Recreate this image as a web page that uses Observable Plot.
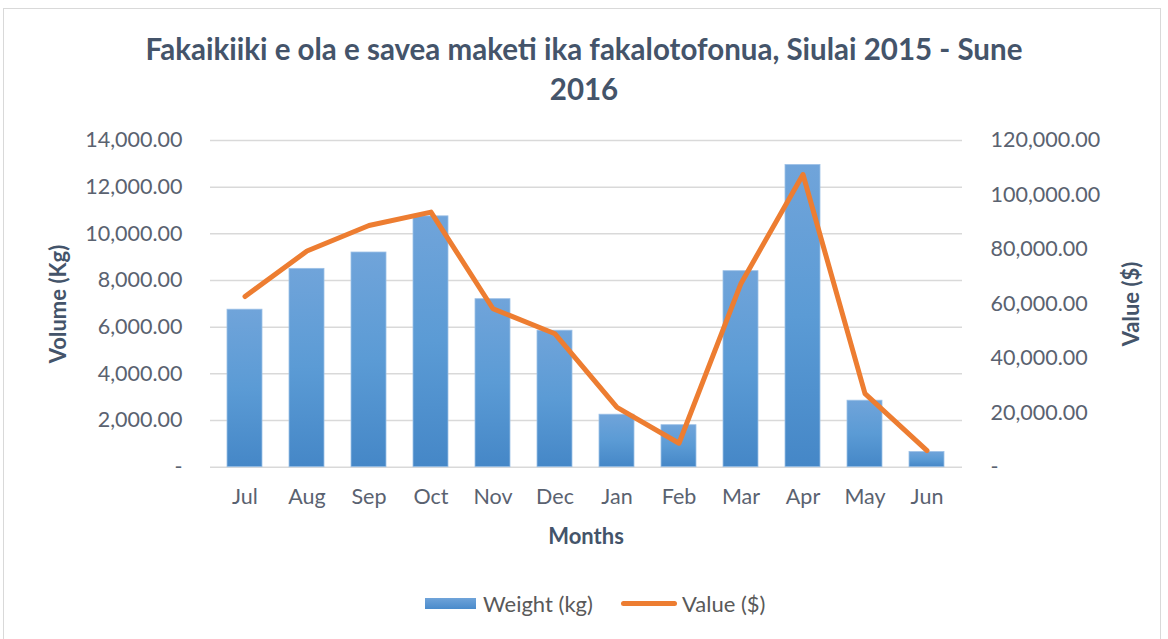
<!DOCTYPE html>
<html>
<head>
<meta charset="utf-8">
<script src="https://cdn.jsdelivr.net/npm/d3@7"></script>
<script src="https://cdn.jsdelivr.net/npm/@observablehq/plot@0.6"></script>
<style>
  html, body { margin: 0; padding: 0; background: #fff; width: 1168px; height: 639px; overflow: hidden; }
  #wrap { position: relative; width: 1168px; height: 639px; font-family: Lato, "Open Sans", sans-serif; }
  #frame { position: absolute; left: 3px; top: 8px; width: 1158px; height: 660px; border: 1.5px solid #d9d9d9; box-sizing: border-box; }
  #title { position: absolute; left: 0; width: 1168px; top: 29px; text-align: center; font-size: 29.5px; font-weight: 700; color: #44546a; line-height: 40px; }
  #chart { position: absolute; left: 0; top: 0; }
  .axt { position: absolute; font-size: 22px; font-weight: 700; color: #44546a; white-space: nowrap; }
  #legend { position: absolute; top: 590px; left: 0; width: 1168px; height: 30px; font-size: 22px; color: #595959; }
  #legend .sw { position: absolute; }
  #legend .lt { position: absolute; top: 0px; white-space: nowrap; }
</style>
</head>
<body>
<div id="wrap">
  <div id="frame"></div>
  <div id="chart"></div>
  <div id="title">Fakaikiiki e ola e savea maketi ika fakalotofonua, Siulai 2015 - Sune<br>2016</div>
  <div class="axt" id="ylab" style="left:57px; top:304px; transform: translate(-50%,-50%) rotate(-90deg);">Volume (Kg)</div>
  <div class="axt" id="y2lab" style="left:1130px; top:304px; transform: translate(-50%,-50%) rotate(-90deg);">Value ($)</div>
  <div class="axt" id="xlab" style="left:586px; top:535px; transform: translate(-50%,-50%);">Months</div>
  <div id="legend">
    <div class="sw" style="left:425px; top:8px; width:51px; height:11px; background: linear-gradient(#6fa3d9,#4a8bcb);"></div>
    <div class="lt" style="left:483px;">Weight (kg)</div>
    <div class="sw" style="left:621px; top:11px; width:56px; height:5px; border-radius:3px; background:#ed7d31;"></div>
    <div class="lt" style="left:682px;">Value ($)</div>
  </div>
</div>
<script>
const months = ["Jul","Aug","Sep","Oct","Nov","Dec","Jan","Feb","Mar","Apr","May","Jun"];
const weightKg = [6750, 8500, 9200, 10750, 7200, 5850, 2250, 1800, 8400, 12950, 2850, 650];
const valueUsd = [62700, 79400, 88800, 93700, 58200, 49000, 22000, 8800, 67500, 107500, 27000, 6100];
const leftTicks = [0, 2000, 4000, 6000, 8000, 10000, 12000, 14000];
const rightTicks = [0, 20000, 40000, 60000, 80000, 100000, 120000];

const leftMax = 14000, rightMax = 120000;
const k = leftMax / rightMax;
const data = months.map((m, i) => ({month: m, weight: weightKg[i], value: valueUsd[i]}));
const fmt = d => d === 0 ? "-" : d3.format(",.2f")(d);

const chart = Plot.plot({
  width: 1168,
  height: 560,
  marginTop: 140,
  marginBottom: 93.3,
  marginLeft: 210,
  marginRight: 206,
  x: {domain: months, paddingInner: 0.43, paddingOuter: 0.215, label: null},
  y: {domain: [0, leftMax], label: null},
  style: {fontFamily: "Lato, 'Open Sans', sans-serif", fontSize: "21.5px", color: "#5a6270", background: "transparent", overflow: "visible"},
  marks: [
    Plot.ruleY(leftTicks, {stroke: "#d9d9d9", strokeWidth: 1.5}),
    Plot.barY(data, {x: "month", y: "weight", fill: "url(#barGrad)", stroke: "#9cc0e6", strokeWidth: 0.8}),
    Plot.line(data, {x: "month", y: d => d.value * k, stroke: "#ed7d31", strokeWidth: 5, strokeLinecap: "round", strokeLinejoin: "round"}),
    Plot.axisY({ticks: leftTicks, tickFormat: fmt, tickSize: 0, tickPadding: 28, anchor: "left", label: null}),
    Plot.axisY({ticks: rightTicks.map(v => v * k), tickFormat: d => fmt(Math.round(d / k)), anchor: "right", tickSize: 0, tickPadding: 28, label: null}),
    Plot.axisX({tickSize: 0, tickPadding: 22, label: null})
  ]
});

const ns = "http://www.w3.org/2000/svg";
const defs = document.createElementNS(ns, "defs");
defs.innerHTML = '<linearGradient id="barGrad" x1="0" y1="0" x2="0" y2="1">' +
  '<stop offset="0" stop-color="#70a4da"/><stop offset="0.5" stop-color="#5b9bd5"/><stop offset="1" stop-color="#4587c7"/></linearGradient>';
chart.insertBefore(defs, chart.firstChild);
document.getElementById("chart").appendChild(chart);
</script>
</body>
</html>
